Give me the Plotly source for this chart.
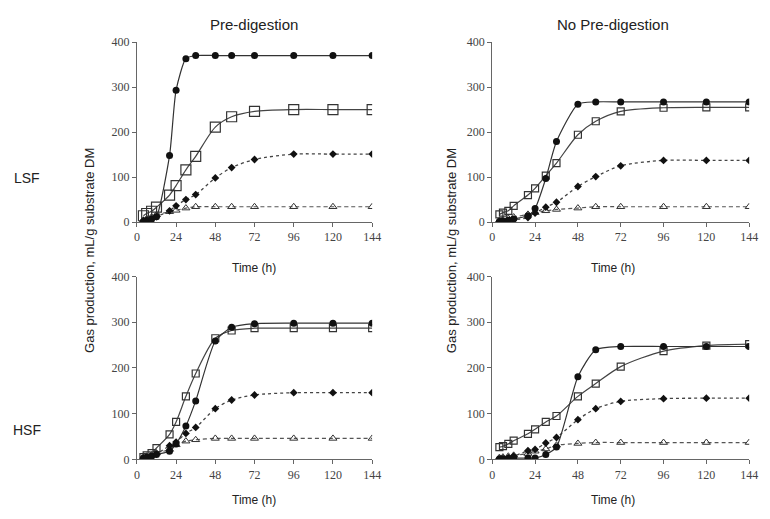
import plotly.graph_objects as go

W, H = 770, 519

time_h = [4, 6, 9, 12, 20, 24, 30, 36, 48, 58, 72, 96, 120, 144]

# Pre-digestion, LSF
pre_lsf_circle = [1, 3, 6, 12, 148, 293, 363, 370, 370, 370, 370, 370, 370, 370]
pre_lsf_square = [14, 19, 24, 33, 60, 81, 116, 146, 211, 234, 246, 250, 250, 250]
pre_lsf_diamond = [3, 5, 8, 12, 25, 36, 50, 61, 98, 121, 139, 151, 151, 151]
pre_lsf_triangle = [4, 7, 11, 16, 23, 26, 31, 34, 34, 34, 34, 34, 34, 34]

# No pre-digestion, LSF
nopre_lsf_circle = [1, 2, 4, 7, 14, 30, 97, 179, 262, 267, 267, 267, 267, 267]
nopre_lsf_square = [17, 21, 25, 36, 60, 75, 103, 131, 194, 224, 246, 254, 255, 255]
nopre_lsf_diamond = [1, 2, 3, 5, 10, 20, 33, 44, 79, 101, 125, 137, 137, 137]
nopre_lsf_triangle = [3, 5, 8, 11, 17, 21, 25, 28, 31, 34, 34, 34, 34, 34]

# Pre-digestion, HSF
pre_hsf_circle = [3, 5, 7, 11, 18, 34, 73, 128, 259, 289, 297, 298, 298, 298]
pre_hsf_square = [5, 9, 14, 25, 55, 82, 138, 188, 265, 282, 287, 287, 287, 287]
pre_hsf_diamond = [3, 5, 8, 12, 30, 38, 57, 70, 111, 130, 141, 146, 146, 146]
pre_hsf_triangle = [4, 7, 10, 14, 22, 32, 40, 43, 46, 46, 46, 46, 46, 46]

# No pre-digestion, HSF
nopre_hsf_circle = [1, 1, 2, 3, 3, 3, 11, 27, 181, 240, 247, 247, 247, 247]
nopre_hsf_square = [27, 29, 34, 41, 56, 66, 82, 95, 138, 166, 203, 237, 249, 252]
nopre_hsf_diamond = [1, 2, 4, 7, 19, 22, 36, 48, 87, 111, 127, 133, 134, 134]
nopre_hsf_triangle = [4, 5, 7, 9, 13, 18, 23, 31, 35, 37, 37, 37, 37, 37]

x_ticks = [0, 24, 48, 72, 96, 120, 144]
y_ticks = [0, 100, 200, 300, 400]

panels = [
    ("x", "y", (136, 375), (36, 221),
     (pre_lsf_circle, pre_lsf_square, pre_lsf_diamond, pre_lsf_triangle), 10),
    ("x2", "y2", (497, 758), (36, 221),
     (nopre_lsf_circle, nopre_lsf_square, nopre_lsf_diamond, nopre_lsf_triangle), 7),
    ("x3", "y3", (136, 375), (277, 465),
     (pre_hsf_circle, pre_hsf_square, pre_hsf_diamond, pre_hsf_triangle), 7),
    ("x4", "y4", (497, 758), (277, 465),
     (nopre_hsf_circle, nopre_hsf_square, nopre_hsf_diamond, nopre_hsf_triangle), 7),
]

fig = go.Figure()
layout = dict(
    width=W, height=H,
    margin=dict(l=0, r=0, t=0, b=0),
    paper_bgcolor="white", plot_bgcolor="white",
    showlegend=False,
)

tick_font = dict(family="Liberation Serif", size=12, color="#444")
axis_color = "#666"

for xa, ya, (x0, x1), (yt, yb), (circ, sq, dia, tri), sqsize in panels:
    fig.add_trace(go.Scatter(
        x=time_h, y=tri, xaxis=xa, yaxis=ya, mode="lines+markers",
        line=dict(color="#555", width=1.2, dash="4px,3px", shape="spline", smoothing=0.8),
        marker=dict(symbol="triangle-up-open", size=7, color="#333", line=dict(width=1))))
    fig.add_trace(go.Scatter(
        x=time_h, y=dia, xaxis=xa, yaxis=ya, mode="lines+markers",
        line=dict(color="#444", width=1.3, dash="dot", shape="spline", smoothing=0.8),
        marker=dict(symbol="diamond", size=6, color="#111")))
    fig.add_trace(go.Scatter(
        x=time_h, y=sq, xaxis=xa, yaxis=ya, mode="lines+markers",
        line=dict(color="#444", width=1.2, shape="spline", smoothing=0.8),
        marker=dict(symbol="square-open", size=sqsize, color="#333", line=dict(width=1.2))))
    fig.add_trace(go.Scatter(
        x=time_h, y=circ, xaxis=xa, yaxis=ya, mode="lines+markers",
        line=dict(color="#333", width=1.2, shape="spline", smoothing=0.6),
        marker=dict(symbol="circle", size=7, color="#111")))

    xkey = "xaxis" + xa[1:]
    ykey = "yaxis" + ya[1:]
    layout[xkey] = dict(
        domain=[x0 / W, x1 / W], range=[0, 144], anchor=ya,
        tickvals=x_ticks, ticks="outside", ticklen=4, tickcolor=axis_color,
        showline=True, linecolor=axis_color, linewidth=1,
        showgrid=False, zeroline=False, tickfont=tick_font,
    )
    layout[ykey] = dict(
        domain=[(H - yb) / H, (H - yt) / H], range=[0, 400], anchor=xa,
        tickvals=y_ticks, ticks="outside", ticklen=4, tickcolor=axis_color,
        showline=True, linecolor=axis_color, linewidth=1,
        showgrid=False, zeroline=False, tickfont=tick_font,
    )

label_font = dict(family="Liberation Sans Narrow, Liberation Sans, sans-serif", color="#222")

annotations = []
def ann(text, x, y, size, angle=0):
    annotations.append(dict(
        text=text, x=x / W, y=(H - y) / H, xref="paper", yref="paper",
        showarrow=False, xanchor="center", yanchor="middle", textangle=angle,
        font=dict(size=size, **label_font)))

ann("Pre-digestion", 255, 18, 15)
ann("No Pre-digestion", 620, 18, 15)
ann("LSF", 24, 176, 14)
ann("HSF", 24, 435, 14)
ann("Time (h)", 255, 268, 12)
ann("Time (h)", 620, 268, 12)
ann("Time (h)", 255, 507, 12)
ann("Time (h)", 620, 507, 12)
ann("Gas production, mL/g substrate DM", 88, 250, 13, -90)
ann("Gas production, mL/g substrate DM", 455, 250, 13, -90)

layout["annotations"] = annotations
fig.update_layout(**layout)
fig.write_html(
    "out.html",
    config={"displayModeBar": False},
    post_script="document.body.style.margin='0';document.body.style.overflow='hidden';",
)
